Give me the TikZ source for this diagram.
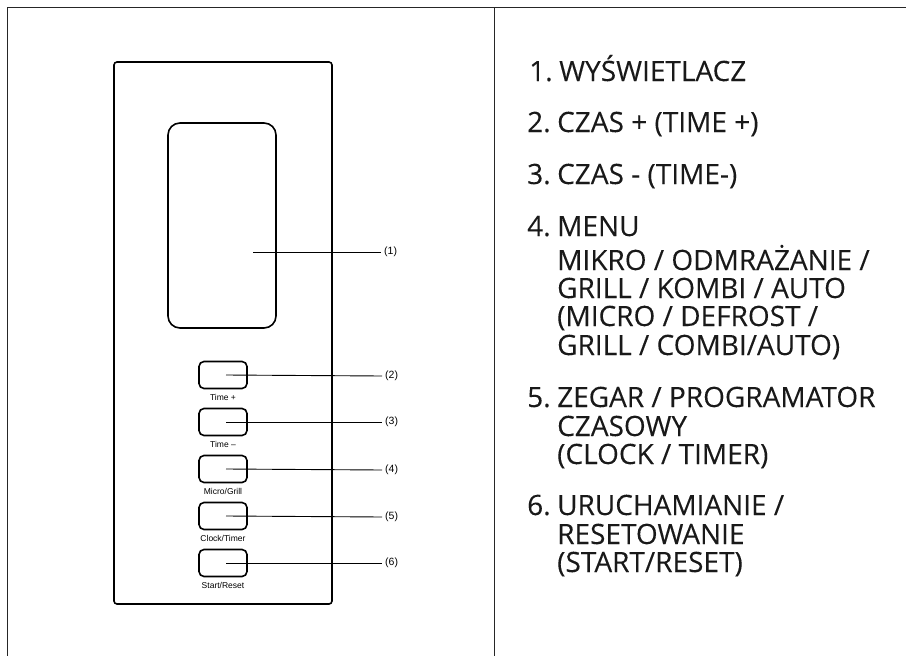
\documentclass[tikz,border=0pt]{standalone}
\usepackage{fontspec}
\setmainfont{Open Sans}
\newfontfamily\itemfont{Open Sans}[FakeBold=0.1]
\newfontfamily\arialfont{Liberation Sans}
\newcommand{\numbox}[1]{\makebox[30pt][l]{#1}}
\tikzset{
  frameline/.style={line width=1pt, draw=black!85},
  panelbox/.style={draw=black, line width=1.6pt, rounded corners=3pt, inner sep=0pt},
  displaybox/.style={draw=black, line width=1.6pt, rounded corners=12pt, inner sep=0pt, minimum width=108pt, minimum height=205pt},
  keybox/.style={draw=black, line width=1.6pt, rounded corners=5pt, inner sep=0pt, minimum width=48pt, minimum height=27pt},
  keytext/.style={font=\arialfont\fontsize{8.5}{10}\selectfont, inner sep=0pt},
  callout/.style={font=\arialfont\fontsize{10.5}{12}\selectfont, inner sep=3pt, anchor=west},
  leader/.style={line width=0.9pt, draw=black},
  itemtext/.style={font=\itemfont\fontsize{28}{30}\selectfont, inner sep=0pt, anchor=base west, text=black!90}
}
\begin{document}
\begin{tikzpicture}[x=1pt,y=-1pt]
\useasboundingbox (0,0) rectangle (906,656);
% frame
\draw[frameline] (7,656) -- (7,7) -- (906,7);
\draw[frameline] (494,7) -- (494,656);
% panel
\node[panelbox, minimum width=218pt, minimum height=542pt] (panel) at (223,333) {};
\node[displaybox] (disp) at (222,225.5) {};
% keys
\node[keybox] (k2) at (223,375) {};
\node[keybox] (k3) at (223,422) {};
\node[keybox] (k4) at (223,469) {};
\node[keybox] (k5) at (223,516) {};
\node[keybox] (k6) at (223,563) {};
\node[keytext] (t2) at (223,397) {Time +};
\node[keytext] (t3) at (223,444) {Time –};
\node[keytext] (t4) at (223,491) {Micro/Grill};
\node[keytext] (t5) at (223,538) {Clock/Timer};
\node[keytext] (t6) at (223,585) {Start/Reset};
% callouts
\coordinate (d1) at (253,252);
\node[callout] (c1) at (381,252) {(1)};
\node[callout] (c2) at (382,376) {(2)};
\node[callout] (c3) at (382,422) {(3)};
\node[callout] (c4) at (382,470) {(4)};
\node[callout] (c5) at (382,517) {(5)};
\node[callout] (c6) at (382,563) {(6)};
\draw[leader] (d1) -- (c1.west);
\draw[leader] ([xshift=3pt]k2.center) -- (c2.west);
\draw[leader] ([xshift=3pt]k3.center) -- (c3.west);
\draw[leader] ([xshift=3pt]k4.center) -- (c4.west);
\draw[leader] ([xshift=3pt]k5.center) -- (c5.west);
\draw[leader] ([xshift=3pt]k6.center) -- (c6.west);
% list
\node[itemtext] (i1) at (529,81) {\numbox{1.}WYŚWIETLACZ};
\node[itemtext] (i2) at (527,132) {\numbox{2.}CZAS + (TIME +)};
\node[itemtext] (i3) at (527,184) {\numbox{3.}CZAS - (TIME-)};
\node[itemtext] (i4) at (527,236) {\numbox{4.}MENU};
\node[itemtext] (i4a) at (557,270) {MIKRO / ODMRAŻANIE /};
\node[itemtext] (i4b) at (557,298) {GRILL / KOMBI / AUTO};
\node[itemtext] (i4c) at (557,326) {(MICRO / DEFROST /};
\node[itemtext] (i4d) at (557,355) {GRILL / COMBI/AUTO)};
\node[itemtext] (i5) at (527,407) {\numbox{5.}ZEGAR / PROGRAMATOR};
\node[itemtext] (i5a) at (557,436) {CZASOWY};
\node[itemtext] (i5b) at (557,464) {(CLOCK / TIMER)};
\node[itemtext] (i6) at (527,515) {\numbox{6.}URUCHAMIANIE /};
\node[itemtext] (i6a) at (557,544) {RESETOWANIE};
\node[itemtext] (i6b) at (557,572) {(START/RESET)};
\end{tikzpicture}
\end{document}
